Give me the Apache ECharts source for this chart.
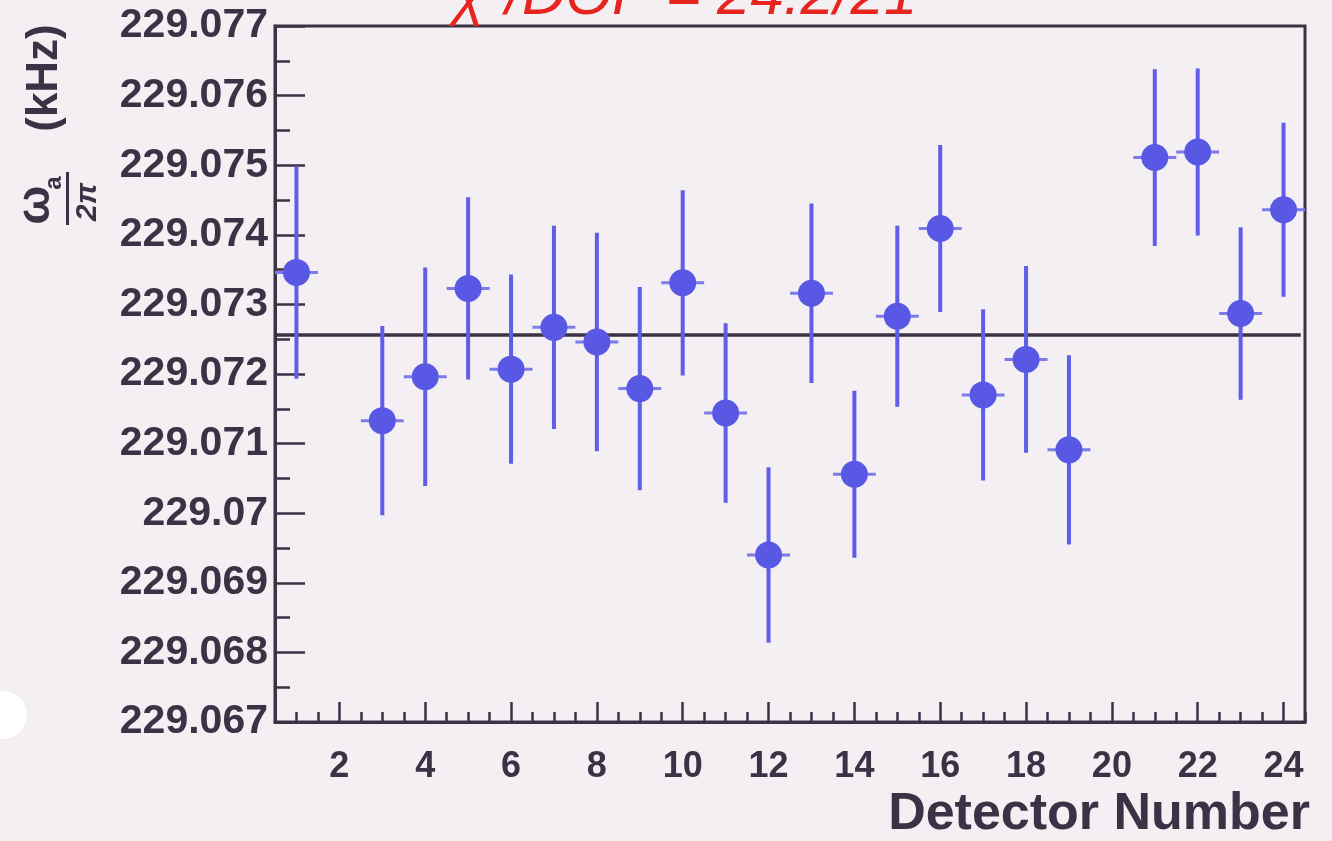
<!DOCTYPE html>
<html>
<head>
<meta charset="utf-8">
<script src="https://cdn.jsdelivr.net/npm/echarts@6/dist/echarts.min.js"></script>
<style>
html,body{margin:0;padding:0;background:#f3eff2;}
#chart{width:1332px;height:841px;}
</style>
</head>
<body>
<div id="chart"></div>
<script>
// ---- data ----
const detectors = [1, 3, 4, 5, 6, 7, 8, 9, 10, 11, 12, 13, 14, 15, 16, 17, 18, 19, 21, 22, 23, 24];
const omega = [229.07346, 229.07133, 229.07196, 229.07323, 229.07207, 229.07267, 229.07246, 229.07179,
  229.07331, 229.07144, 229.06940, 229.07316, 229.07056, 229.07283, 229.07409, 229.07170, 229.07221,
  229.07091, 229.07511, 229.07519, 229.07287, 229.07436];
const errors = [0.00153, 0.00136, 0.00157, 0.00131, 0.00136, 0.00146, 0.00157, 0.00146,
  0.00133, 0.00129, 0.00126, 0.00129, 0.00120, 0.00130, 0.00120, 0.00123, 0.00134,
  0.00136, 0.00127, 0.00120, 0.00124, 0.00125];
const fitValue = 229.07256;
const fitRange = [0.5, 24.4];
const xTickLabels = [2, 4, 6, 8, 10, 12, 14, 16, 18, 20, 22, 24];
const yTickLabels = ['229.067', '229.068', '229.069', '229.07', '229.071', '229.072',
  '229.073', '229.074', '229.075', '229.076', '229.077'];
const xRange = [0.5, 24.5];
const yRange = [229.067, 229.077];

// ---- derived tick positions ----
const yTicks = yTickLabels.map(Number);
const yMinor = [];
for (let i = 0; i < yTicks.length - 1; i++) yMinor.push((yTicks[i] + yTicks[i + 1]) / 2);

const ink = '#3b3245';
const blue = '#5858e4';
const font = 'Liberation Sans, Arial, sans-serif';

const chart = echarts.init(document.getElementById('chart'));
chart.setOption({
  backgroundColor: '#f3eff2',
  animation: false,
  grid: {
    left: 275, top: 26, width: 1030, height: 696,
    show: true, borderColor: ink, borderWidth: 3, backgroundColor: 'transparent'
  },
  xAxis: [{
    type: 'value', min: xRange[0], max: xRange[1], position: 'bottom',
    axisLine: { onZero: false, lineStyle: { color: ink, width: 3 } },
    axisTick: { inside: true, length: 20, customValues: xTickLabels, lineStyle: { color: ink, width: 2.5 } },
    axisLabel: { customValues: xTickLabels, color: ink, fontSize: 36, fontWeight: 'bold', fontFamily: font, margin: 27 },
    splitLine: { show: false }
  }, {
    type: 'value', min: xRange[0], max: xRange[1], interval: 0.5, position: 'bottom',
    axisLine: { show: false, onZero: false },
    axisTick: { show: true, inside: true, length: 10, lineStyle: { color: ink, width: 2.5 } },
    axisLabel: { show: false },
    splitLine: { show: false }
  }],
  yAxis: [{
    type: 'value', min: yRange[0], max: yRange[1], position: 'left', scale: true,
    axisLine: { show: true, onZero: false, lineStyle: { color: ink, width: 3 } },
    axisTick: { show: true, inside: true, length: 30, customValues: yTicks, lineStyle: { color: ink, width: 2.5 } },
    axisLabel: {
      customValues: yTicks, color: ink, fontSize: 41, fontWeight: 'bold', fontFamily: font, margin: 7,
      formatter: function (v) {
        let best = 0, d = Infinity;
        yTicks.forEach((t, i) => { const dd = Math.abs(t - v); if (dd < d) { d = dd; best = i; } });
        return yTickLabels[best];
      }
    },
    splitLine: { show: false }
  }, {
    type: 'value', min: yRange[0], max: yRange[1], position: 'left', scale: true,
    axisLine: { show: false, onZero: false },
    axisTick: { show: true, inside: true, length: 15, customValues: yMinor, lineStyle: { color: ink, width: 2.5 } },
    axisLabel: { show: false },
    splitLine: { show: false }
  }],
  series: [{
    type: 'line', z: 1, silent: true, symbol: 'none',
    lineStyle: { color: '#3a3242', width: 3.5 },
    data: fitRange.map(x => [x, fitValue])
  }, {
    type: 'custom', z: 2, silent: true,
    data: detectors.map((d, i) => [d, omega[i], errors[i]]),
    encode: { x: 0, y: 1 },
    renderItem: function (params, api) {
      const x = api.value(0), y = api.value(1), e = api.value(2);
      const top = api.coord([x, y + e]);
      const bot = api.coord([x, y - e]);
      const l = api.coord([x - 0.5, y]);
      const r = api.coord([x + 0.5, y]);
      return {
        type: 'group',
        children: [
          { type: 'line', shape: { x1: top[0], y1: top[1], x2: bot[0], y2: bot[1] }, style: { stroke: '#5e5ee8', lineWidth: 4 } },
          { type: 'line', shape: { x1: l[0], y1: l[1], x2: r[0], y2: r[1] }, style: { stroke: '#7b7bec', lineWidth: 3 } }
        ]
      };
    }
  }, {
    type: 'scatter', z: 3, symbol: 'circle', symbolSize: 27,
    itemStyle: { color: blue, opacity: 1 },
    data: detectors.map((d, i) => [d, omega[i]])
  }],
  graphic: [
    { type: 'circle', shape: { cx: 3, cy: 715, r: 24 }, style: { fill: '#ffffff' }, z: 0 },
    { type: 'text', x: 685, y: -3, z: 10,
      style: { text: 'χ²/DOF = 24.2/21', fontSize: 60, fontStyle: 'italic', fontFamily: font, fill: '#e8241f', align: 'center', verticalAlign: 'middle' } },
    { type: 'text', x: 1310, y: 815, z: 10,
      style: { text: 'Detector Number', fontSize: 52, fontWeight: 'bold', fontFamily: font, fill: ink, align: 'right', verticalAlign: 'middle' } },
    { type: 'text', x: 45, y: 78, rotation: Math.PI / 2, z: 10,
      style: { text: '(kHz)', fontSize: 44, fontWeight: 'bold', fontFamily: font, fill: ink, align: 'center', verticalAlign: 'middle' } },
    { type: 'text', x: 36, y: 205, rotation: Math.PI / 2, z: 10,
      style: { text: 'ω', fontSize: 46, fontWeight: 'bold', fontFamily: font, fill: ink, align: 'center', verticalAlign: 'middle' } },
    { type: 'text', x: 54, y: 183, rotation: Math.PI / 2, z: 10,
      style: { text: 'a', fontSize: 24, fontWeight: 'bold', fontFamily: font, fill: ink, align: 'center', verticalAlign: 'middle' } },
    { type: 'rect', z: 10, shape: { x: 66, y: 172, width: 3, height: 53 }, style: { fill: ink } },
    { type: 'text', x: 88, y: 202, rotation: Math.PI / 2, z: 10,
      style: { text: '2π', fontSize: 30, fontWeight: 'bold', fontStyle: 'italic', fontFamily: font, fill: ink, align: 'center', verticalAlign: 'middle' } }
  ]
});
</script>
</body>
</html>
